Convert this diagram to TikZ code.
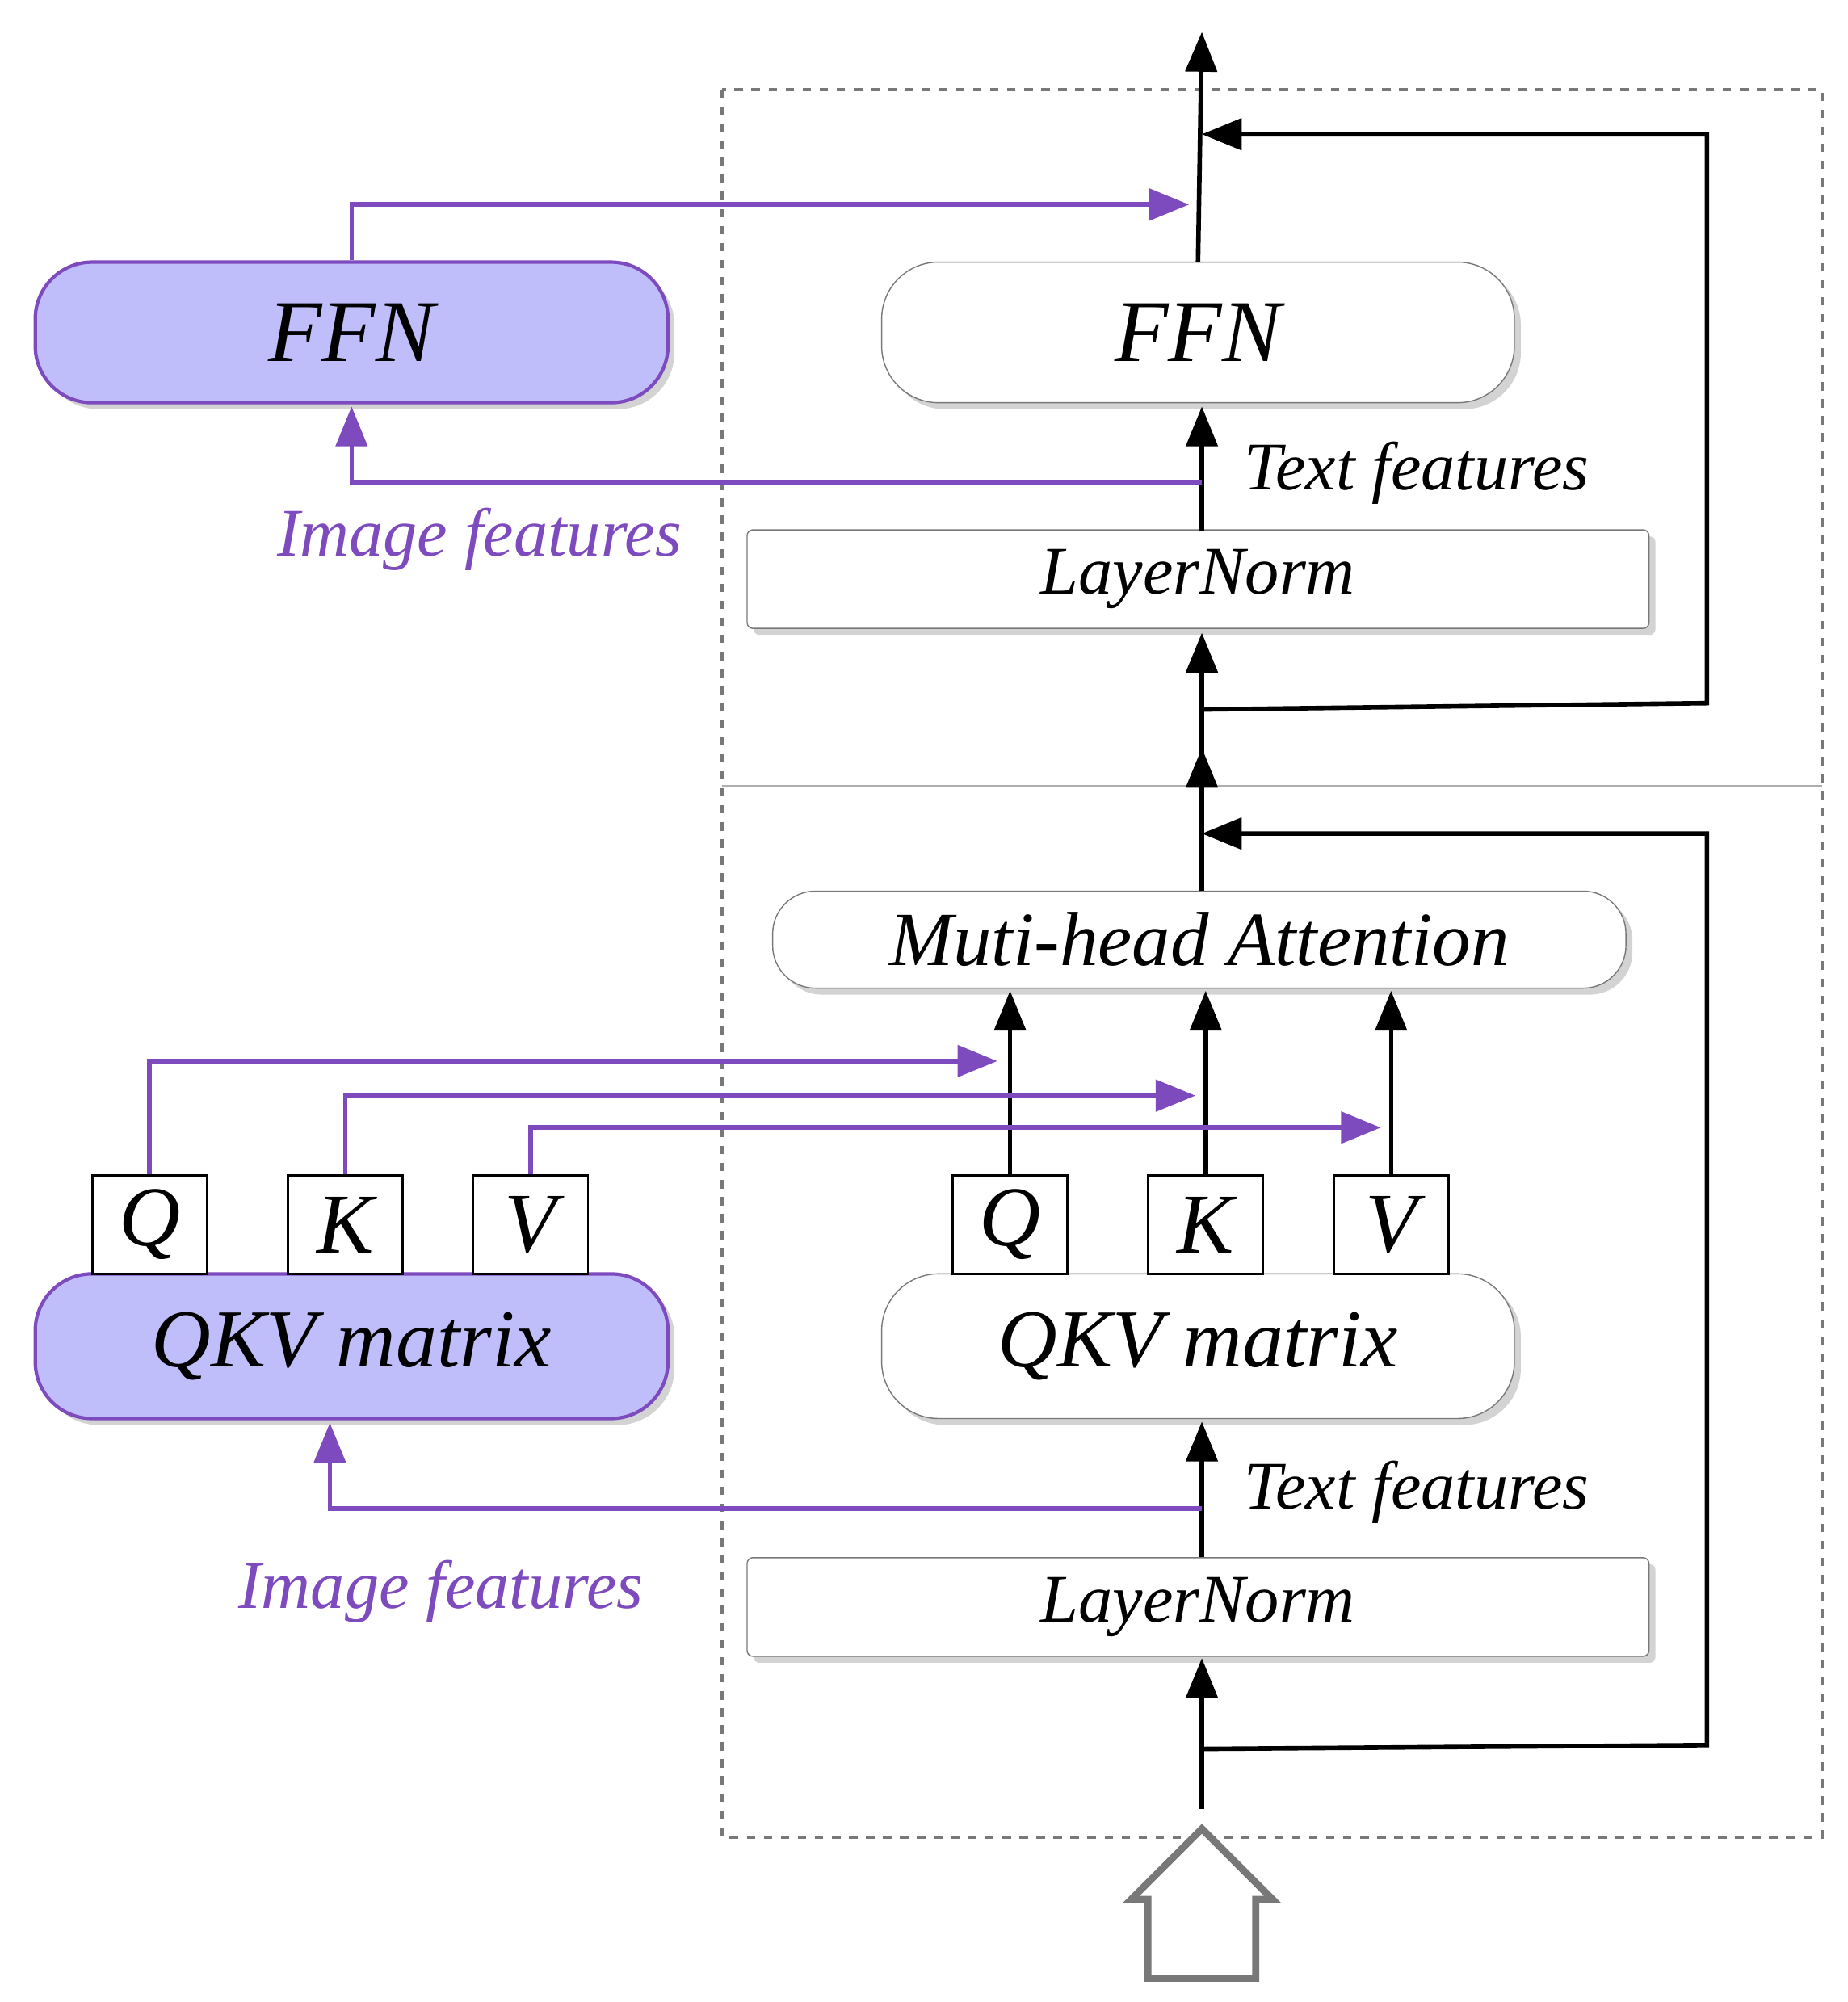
\documentclass[tikz,border=0pt]{standalone}
\usepackage{fontspec}
\setmainfont{Liberation Serif}
\usetikzlibrary{shadows,shapes.arrows,arrows.meta}
\definecolor{imgpurple}{RGB}{125, 75, 190}
\definecolor{imgfill}{RGB}{192, 190, 250}
\definecolor{boxgray}{RGB}{120, 120, 120}

\tikzset{
	block/.style={draw=boxgray, fill=white, rounded corners=20pt, drop shadow={opacity=0.35}, font=\itshape\fontsize{31}{33}\selectfont},
	imgblock/.style={draw=imgpurple, very thick, fill=imgfill, rounded corners=20pt, drop shadow={opacity=0.35}, font=\itshape\fontsize{31}{33}\selectfont},
	norm/.style={draw=boxgray, fill=white, rounded corners=2pt, drop shadow={opacity=0.35}, font=\itshape\fontsize{24}{26}\selectfont},
	letter/.style={draw=black, fill=white, thick, inner sep=0pt, font=\itshape\fontsize{30}{32}\selectfont},
	flow/.style={line width=1.6pt, -{Triangle[length=14pt,width=11pt]}},
	imgflow/.style={imgpurple, line width=1.6pt, -{Triangle[length=14pt,width=11pt]}},
	lbl/.style={font=\itshape\fontsize{24}{26}\selectfont},
}

\begin{document}
\begin{tikzpicture}[x=0.015827cm, y=-0.015827cm]
	\useasboundingbox (0,0) rectangle (1445,1566);
	% frames
	\draw [boxgray, dashed, line width=1.2pt] (565,70) rectangle (1425,1437);
	\draw [boxgray!60, line width=1pt] (565,615) -- (1425,615);

	% right column, upper block
	\node [block, minimum width=7.83cm, minimum height=1.74cm] (ffnR) at (937,260) {FFN};
	\node [imgblock, minimum width=7.83cm, minimum height=1.74cm] (ffnL) at (275,260) {FFN};
	\node [norm, minimum width=11.16cm, minimum height=1.22cm] (lnTop) at (937,453) {LayerNorm};
	\node [lbl, anchor=west] (txtTop) at (965,370) {Text features};
	\node [lbl, imgpurple] (imgTop) at (375,422) {Image features};

	% right column, lower block
	\node [block, rounded corners=15pt, minimum width=10.56cm, minimum height=1.2cm, font=\itshape\fontsize{27}{29}\selectfont] (att) at (938,735) {Muti-head Attention};
	\node [block, font=\itshape\fontsize{29}{31}\selectfont, minimum width=7.83cm, minimum height=1.79cm] (qkvR) at (937,1053) {QKV matrix};
	\node [imgblock, font=\itshape\fontsize{29}{31}\selectfont, minimum width=7.83cm, minimum height=1.79cm] (qkvL) at (275,1053) {QKV matrix};
	\node [norm, minimum width=11.16cm, minimum height=1.22cm] (lnBot) at (937,1257) {LayerNorm};
	\node [lbl, anchor=west] (txtBot) at (965,1167) {Text features};
	\node [lbl, imgpurple] (imgBot) at (345,1245) {Image features};

	% Q K V boxes
	\foreach \name/\x/\t in {qR/790/Q, kR/943/K, vR/1088/V, qL/117/Q, kL/270/K, vL/415/V}
		\node [letter, minimum width=1.42cm, minimum height=1.22cm] (\name) at (\x,958) {\t};

	% coordinates on the main line
	\coordinate (inBot) at (940,1415);
	\coordinate (splitBot) at (940,1368);
	\coordinate (mergeBot) at (940,652);
	\coordinate (splitTop) at (940,555);
	\coordinate (mergeTop) at (940,105);
	\coordinate (out) at (940,25);

	% main flow
	\draw [flow] (inBot) -- (940,1297);
	\draw [flow] (940,1218) -- (940,1112);
	\draw [flow] (qR.north) -- (790,775);
	\draw [flow] (kR.north) -- (943,775);
	\draw [flow] (vR.north) -- (1088,775);
	\draw [flow] (940,697) -- (940,495);
	\draw [flow] (940,415) -- (940,318);
	\draw [flow] (ffnR.north) -- (out);
	\draw [flow] (940,615) -- (940,585);

	% residual paths
	\draw [flow] (splitBot) -- (1335,1365) -- (1335,652) -- (mergeBot);
	\draw [flow] (splitTop) -- (1335,550) -- (1335,105) -- (mergeTop);

	% image features
	\draw [imgflow] (940,1180) -- (258,1180) -- (258,1113);
	\draw [imgflow] (qL.north) -- (117,830) -- (780,830);
	\draw [imgflow] (kL.north) -- (270,857) -- (935,857);
	\draw [imgflow] (vL.north) -- (415,882) -- (1080,882);
	\draw [imgflow] (940,377) -- (275,377) -- (275,318);
	\draw [imgflow] (ffnL.north) -- (275,160) -- (930,160);

	% input arrow
	\node [single arrow, draw=boxgray, line width=2.5pt, fill=white, shape border rotate=90, minimum width=1.75cm, single arrow head extend=0.05cm, minimum height=1.85cm, single arrow tip angle=90] (inp) at (940,1510) {};
\end{tikzpicture}
\end{document}
